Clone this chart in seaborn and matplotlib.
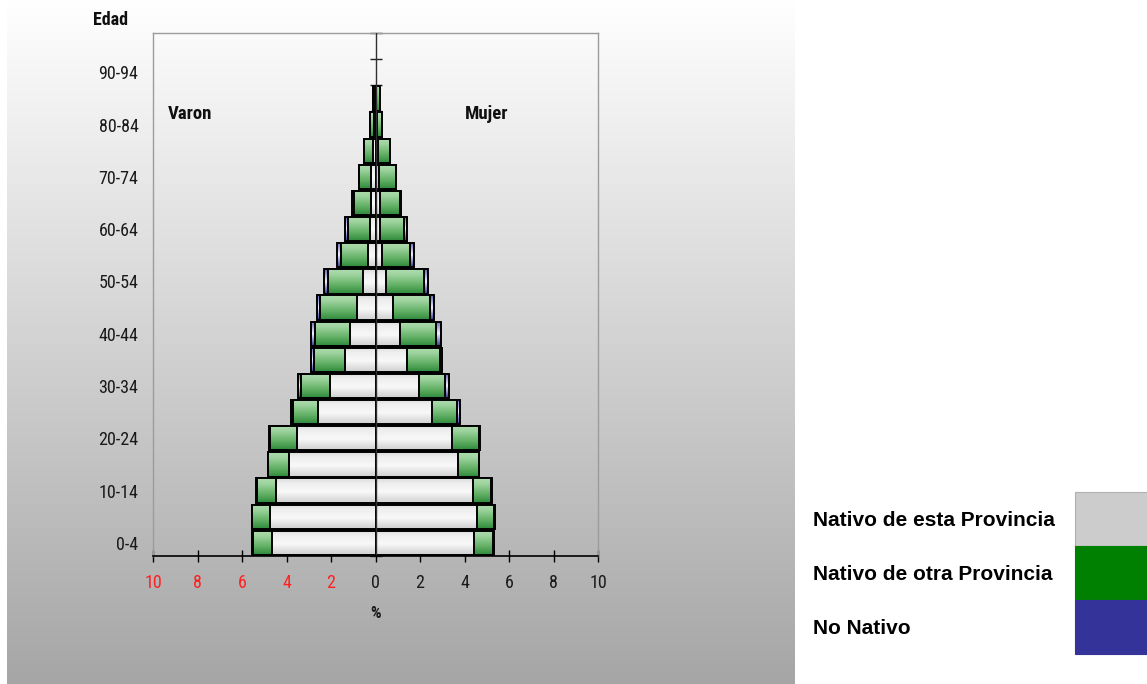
import numpy as np
import pandas as pd
import matplotlib
matplotlib.use("Agg")
import matplotlib.pyplot as plt
from matplotlib.patches import Rectangle
from matplotlib.colors import to_rgb
from matplotlib import font_manager as fm
import seaborn as sns

# ---------------- data ----------------
ages = ['0-4', '5-9', '10-14', '15-19', '20-24', '25-29', '30-34', '35-39', '40-44',
        '45-49', '50-54', '55-59', '60-64', '65-69', '70-74', '75-79', '80-84',
        '85-89', '90-94', '95-99']

varon_esta = [4.67, 4.75, 4.45, 3.90, 3.52, 2.58, 2.05, 1.38, 1.16, 0.83,
              0.58, 0.33, 0.23, 0.20, 0.18, 0.13, 0.05, 0.03, 0.00, 0.00]
varon_otra = [0.85, 0.78, 0.88, 0.92, 1.24, 1.12, 1.28, 1.39, 1.57, 1.67,
              1.55, 1.24, 1.00, 0.76, 0.55, 0.38, 0.18, 0.07, 0.00, 0.00]
varon_nonat = [0.02, 0.02, 0.02, 0.02, 0.02, 0.11, 0.15, 0.11, 0.15, 0.15,
               0.18, 0.18, 0.15, 0.09, 0.02, 0.00, 0.00, 0.00, 0.00, 0.00]

mujer_esta = [4.43, 4.58, 4.36, 3.71, 3.44, 2.54, 1.95, 1.42, 1.12, 0.79,
              0.46, 0.31, 0.19, 0.19, 0.16, 0.12, 0.05, 0.04, 0.00, 0.00]
mujer_otra = [0.86, 0.75, 0.85, 0.92, 1.22, 1.14, 1.16, 1.47, 1.62, 1.65,
              1.73, 1.26, 1.10, 0.90, 0.75, 0.52, 0.26, 0.15, 0.00, 0.00]
mujer_nonat = [0.02, 0.02, 0.02, 0.02, 0.02, 0.14, 0.20, 0.11, 0.19, 0.18,
               0.15, 0.17, 0.13, 0.05, 0.02, 0.00, 0.00, 0.00, 0.00, 0.00]

xticks_vals = [-10, -8, -6, -4, -2, 0, 2, 4, 6, 8, 10]
legend_labels = ['Nativo de esta Provincia', 'Nativo de otra Provincia', 'No Nativo']
legend_colors = ['#CCCCCC', '#008000', '#333399']

# ---------------- style ----------------
sns.set_theme(style="white")
plt.rcParams['font.family'] = ['DejaVu Sans']


def find_narrow(bold=False):
    cands = []
    for f in fm.fontManager.ttflist:
        name = (f.name + ' ' + f.fname).lower()
        if ('narrow' in name or 'condensed' in name) and 'semi' not in name:
            isbold = (f.weight in ('bold', 700) or (isinstance(f.weight, int) and f.weight >= 600))
            if isbold == bold and f.style == 'normal':
                cands.append(f)
    pref = ['liberation sans narrow', 'arial narrow', 'dejavu sans condensed', 'roboto condensed',
            'open sans condensed', 'noto sans condensed']
    for p in pref:
        for f in cands:
            if p in (f.name + ' ' + f.fname).lower().replace('-', ' ').replace('_', ' '):
                return f.fname
    for p in ['liberationsansnarrow', 'dejavusanscondensed', 'robotocondensed', 'opensanscondensed',
              'notosans condensed', 'notosans-condensed']:
        for f in cands:
            if p in f.fname.lower().replace('-', '').replace('_', ''):
                return f.fname
    return cands[0].fname if cands else None


nfile = find_narrow(False)
nbfile = find_narrow(True)
if nfile:
    fp_tick = fm.FontProperties(fname=nfile, size=13)
else:
    fp_tick = fm.FontProperties(family='DejaVu Sans', size=10.5)
if nbfile:
    fp_bold = fm.FontProperties(fname=nbfile, size=13)
    fp_bold_m = fm.FontProperties(fname=nbfile, size=13.5)
    fp_bold_s = fm.FontProperties(fname=nbfile, size=12)
else:
    fp_bold = fm.FontProperties(family='DejaVu Sans', weight='bold', size=11)
    fp_bold_m = fm.FontProperties(family='DejaVu Sans', weight='bold', size=11)
    fp_bold_s = fm.FontProperties(family='DejaVu Sans', weight='bold', size=10.5)

W, H = 1147, 684
fig = plt.figure(figsize=(W / 100, H / 100), dpi=100, facecolor='white')

# gradient background panel
bg = fig.add_axes([7 / W, 0, 788 / W, 1], zorder=-5)
grad = np.linspace(0, 1, 256)[:, None]
top = np.array([1.0, 1.0, 1.0])
bot = np.array([0.65, 0.65, 0.65])
bg_img = top[None, None, :] * (1 - grad[:, :, None]) + bot[None, None, :] * grad[:, :, None]
bg.imshow(bg_img, aspect='auto', extent=[0, 1, 0, 1], origin='upper')
bg.set_axis_off()

ax_left, ax_right, ax_top, ax_bot = 153, 598, 33, 556
ax = fig.add_axes([ax_left / W, 1 - ax_bot / H, (ax_right - ax_left) / W, (ax_bot - ax_top) / H])
ax.set_facecolor('none')


def gradient_rgb(stops):
    pos = [s[0] for s in stops]
    cols = np.array([to_rgb(s[1]) for s in stops])
    t = np.linspace(0, 1, 64)
    out = np.stack([np.interp(t, pos, cols[:, i]) for i in range(3)], axis=1)
    return out[:, None, :]


grad_white = gradient_rgb([(0, '#CFCFCF'), (0.45, '#F8F8F8'), (0.8, '#EEEEEE'), (1, '#DADADA')])
grad_green = gradient_rgb([(0, '#2E8A3A'), (0.35, '#62B065'), (0.8, '#A2D5A2'), (1, '#ACDCAC')])
grad_blue = gradient_rgb([(0, '#333399'), (0.5, '#F2F2FF'), (1, '#6666BB')])


def layer(values, sign, grad_img, level):
    df = pd.DataFrame({'edad': ages, 'valor': sign * np.asarray(values, dtype=float)})
    n0 = len(ax.patches)
    sns.barplot(data=df, y='edad', x='valor', order=ages, orient='h', width=0.93,
                color=legend_colors[0], edgecolor='black', linewidth=1.4,
                ax=ax, errorbar=None)
    for p in ax.patches[n0:]:
        w = p.get_width()
        p.set_facecolor('none')
        p.set_zorder(2 + 2 * level + 0.5)
        if abs(w) < 1e-9:
            p.set_visible(False)
            continue
        x0, y0, h = p.get_x(), p.get_y(), p.get_height()
        xa, xb = sorted([x0, x0 + w])
        ya, yb = sorted([y0, y0 + h])
        im = ax.imshow(grad_img, extent=[xa, xb, ya, yb], origin='lower', aspect='auto',
                       zorder=2 + 2 * level, interpolation='bilinear')
        im.set_clip_path(p)


v_esta = np.asarray(varon_esta)
v_otra = np.asarray(varon_otra)
v_non = np.asarray(varon_nonat)
m_esta = np.asarray(mujer_esta)
m_otra = np.asarray(mujer_otra)
m_non = np.asarray(mujer_nonat)

layer(v_esta + v_otra + v_non, -1, grad_blue, 0)
layer(m_esta + m_otra + m_non, 1, grad_blue, 0)
layer(v_esta + v_otra, -1, grad_green, 1)
layer(m_esta + m_otra, 1, grad_green, 1)
layer(v_esta, -1, grad_white, 2)
layer(m_esta, 1, grad_white, 2)

ax.set_xlim(-10, 10)
ax.set_ylim(-0.5, len(ages) - 0.5)
ax.set_ylabel('')

# center axis line
ax.axvline(0, color='#303030', linewidth=1.0, zorder=20)
sec = ax.secondary_yaxis(0.5)
sec.set_yticks(np.arange(-0.5, len(ages), 1.0))
sec.tick_params(axis='y', direction='inout', length=8, width=1, color='#202020', labelright=False)
sec.spines['right'].set_visible(False)
sec.spines['left'].set_visible(False)

# y tick labels
ax.set_yticks(np.arange(0, len(ages), 2))
ax.set_yticklabels(ages[::2])
ax.tick_params(axis='y', length=0, pad=10.5, labelcolor='#1A1A1A')
for lab in ax.get_yticklabels():
    lab.set_fontproperties(fp_tick)

# x ticks
ax.set_xticks(xticks_vals)
ax.set_xticklabels([str(abs(v)) for v in xticks_vals])
ax.tick_params(axis='x', direction='inout', length=8, width=1, color='black',
               pad=9, bottom=True)
for v, lab in zip(xticks_vals, ax.get_xticklabels()):
    lab.set_fontproperties(fp_tick)
    lab.set_color('#FF2020' if v < 0 else '#1A1A1A')
ax.set_xlabel('%', fontproperties=fp_bold_s, labelpad=10, color='#1A1A1A')

for s in ['top', 'left', 'right']:
    ax.spines[s].set_color('#9C9C9C')
    ax.spines[s].set_linewidth(1.0)
ax.spines['bottom'].set_color('black')
ax.spines['bottom'].set_linewidth(1.2)
ax.spines['bottom'].set_zorder(25)

ax.text((168 - ax_left) / (ax_right - ax_left), (ax_bot - 114) / (ax_bot - ax_top), 'Varon',
        transform=ax.transAxes, ha='left', va='center', fontproperties=fp_bold_m, color='#101010')
ax.text((465 - ax_left) / (ax_right - ax_left), (ax_bot - 114) / (ax_bot - ax_top), 'Mujer',
        transform=ax.transAxes, ha='left', va='center', fontproperties=fp_bold_m, color='#101010')
fig.text(111 / W, 1 - 20 / H, 'Edad', ha='center', va='center', fontproperties=fp_bold,
         color='#101010')

# legend
box_top = [492, 546, 600]
box_h = 54
text_y = [520, 574, 629]
for lab, col, bt, ty in zip(legend_labels, legend_colors, box_top, text_y):
    fig.patches.append(Rectangle((1075 / W, 1 - (bt + box_h) / H), 80 / W, box_h / H,
                                 transform=fig.transFigure, facecolor=col,
                                 edgecolor='#B0B0B0' if col == '#CCCCCC' else col, linewidth=0.8))
    fig.text(813 / W, 1 - ty / H, lab, ha='left', va='center', fontsize=15, fontweight='bold',
             family=['Liberation Sans', 'DejaVu Sans'], color='#000000')

fig.savefig('out.png', dpi=100, facecolor='white')
